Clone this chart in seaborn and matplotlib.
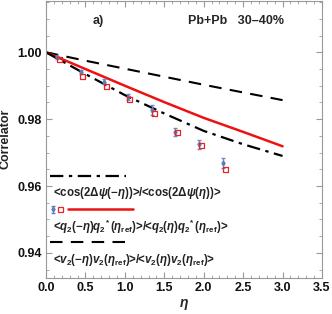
import matplotlib
matplotlib.use("Agg")
import matplotlib.pyplot as plt
import seaborn as sns
import numpy as np
import pandas as pd
from matplotlib.ticker import MultipleLocator

# ---- data ----
eta_line = [0.0, 0.5, 1.0, 1.5, 2.0, 2.5, 3.0]
cos_ratio = [1.0, 0.9935, 0.9872, 0.9817, 0.9765, 0.9725, 0.9690]
q2_ratio_model = [1.0, 0.9950, 0.9900, 0.9851, 0.9804, 0.9762, 0.9719]
v2_ratio = [1.0, 0.9975, 0.9951, 0.9927, 0.9903, 0.9880, 0.9857]

eta_blue = [0.14, 0.44, 0.74, 1.04, 1.34, 1.64, 1.94, 2.25]
blue_vals = [0.9985, 0.9940, 0.9912, 0.9866, 0.9827, 0.9763, 0.9725, 0.9669]
blue_err = [0.0005, 0.0006, 0.0008, 0.0010, 0.0015, 0.0012, 0.0013, 0.0016]
eta_red = [0.165, 0.465, 0.765, 1.065, 1.37, 1.67, 1.97, 2.28]
red_vals = [0.9979, 0.9928, 0.9899, 0.9860, 0.9818, 0.9761, 0.9722, 0.9651]

xticks = [0.0, 0.5, 1.0, 1.5, 2.0, 2.5, 3.0, 3.5]
yticks = [0.94, 0.96, 0.98, 1.00]

label_cos = r'<cos(2$\Delta\psi(-\eta)$)>/<cos(2$\Delta\psi(\eta)$)>'
label_q2 = (r'<$q_2(-\eta)q_2{}^{\!*}(\eta_{\rm ref})$>/'
            r'<$q_2(\eta)q_2{}^{\!*}(\eta_{\rm ref})$>')
label_v2 = r'<$v_2(-\eta)v_2(\eta_{\rm ref})$>/<$v_2(\eta)v_2(\eta_{\rm ref})$>'

sns.set_style("ticks")
plt.rcParams['font.family'] = ['Liberation Sans', 'DejaVu Sans']
plt.rcParams['mathtext.fontset'] = 'custom'
plt.rcParams['mathtext.rm'] = 'Liberation Sans:bold'
plt.rcParams['mathtext.it'] = 'Liberation Sans:italic:bold'
plt.rcParams['mathtext.bf'] = 'Liberation Sans:bold'

fig = plt.figure(figsize=(3.32, 3.14), dpi=100)
ax = fig.add_axes([46/332, 36/314, 276/332, 277.5/314])

lines_df = pd.DataFrame({"eta": eta_line, "cos": cos_ratio,
                         "q2": q2_ratio_model, "v2": v2_ratio})
sns.lineplot(data=lines_df, x="eta", y="v2", ax=ax, color="black",
             lw=1.5, linestyle=(0, (6, 4)))
sns.lineplot(data=lines_df, x="eta", y="q2", ax=ax, color="#ee1111", lw=1.8)
sns.lineplot(data=lines_df, x="eta", y="cos", ax=ax, color="black",
             lw=1.6, linestyle=(0, (6, 2.5, 1.5, 2.5)))

ax.errorbar(eta_blue, blue_vals, yerr=blue_err, fmt='d', ms=2.5,
            color="#5b80bb", ecolor="#6a8cc2", elinewidth=0.9, capsize=1.3, zorder=4)
pts_df = pd.DataFrame({"eta": eta_red, "val": red_vals})
sns.scatterplot(data=pts_df, x="eta", y="val", ax=ax, marker='s', s=13,
                facecolor='none', edgecolor="#ee2222", linewidth=0.9, zorder=5)

ax.set_xlim(0, 3.5)
ax.set_ylim(0.9325, 1.0155)
ax.set_xticks(xticks)
ax.set_yticks(yticks)
ax.set_xticklabels([f"{t:.1f}" for t in xticks], fontweight='bold', fontsize=9)
ax.set_yticklabels([f"{t:.2f}" for t in yticks], fontweight='bold', fontsize=9)
ax.xaxis.set_minor_locator(MultipleLocator(0.1))
ax.yaxis.set_minor_locator(MultipleLocator(0.005))
ax.tick_params(which='both', direction='in', top=True, right=True,
               color='#999999', labelcolor='#111111')
ax.tick_params(which='major', length=4, width=0.8, pad=3)
ax.tick_params(which='minor', length=2, width=0.6)
for s in ax.spines.values():
    s.set_color('#999999')
    s.set_linewidth(0.8)

ax.set_xlabel(r'$\eta$', fontsize=10, labelpad=2)
ax.set_ylabel('Correlator', fontsize=9, fontweight='bold', labelpad=4, color='#222222')

ax.text(0.17, 0.925, 'a)', transform=ax.transAxes, fontsize=9,
        fontweight='bold', va='center', ha='left')
ax.text(0.515, 0.925, 'Pb+Pb   30\u201340%', transform=ax.transAxes, fontsize=9,
        fontweight='bold', va='center', ha='left')

# legend (manual layout)
T = ax.transAxes
ax.plot([0.014, 0.29], [0.367, 0.367], transform=T, color='black', lw=1.6,
        linestyle=(0, (6, 2.5, 1.5, 2.5)))
ax.text(0.025, 0.306, label_cos, transform=T, fontsize=8.3, fontweight='bold',
        va='center', ha='left', color='#222222')
ax.errorbar([0.025], [0.248], yerr=[0.012], transform=T, fmt='d', ms=2.5,
            color="#5b80bb", elinewidth=0.9, capsize=1.3)
ax.plot([0.051], [0.248], transform=T, marker='s', ms=3.6, mfc='none',
        mec='#ee2222', mew=0.9, ls='none')
ax.plot([0.08, 0.315], [0.248, 0.248], transform=T, color='#ee1111', lw=1.8)
ax.text(0.025, 0.183, label_q2, transform=T, fontsize=8.3, fontweight='bold',
        va='center', ha='left', color='#222222')
ax.plot([0.014, 0.29], [0.13, 0.13], transform=T, color='black', lw=1.5,
        linestyle=(0, (6, 4)))
ax.text(0.025, 0.065, label_v2, transform=T, fontsize=8.3, fontweight='bold',
        va='center', ha='left', color='#222222')

fig.savefig("out.png", dpi=100)
